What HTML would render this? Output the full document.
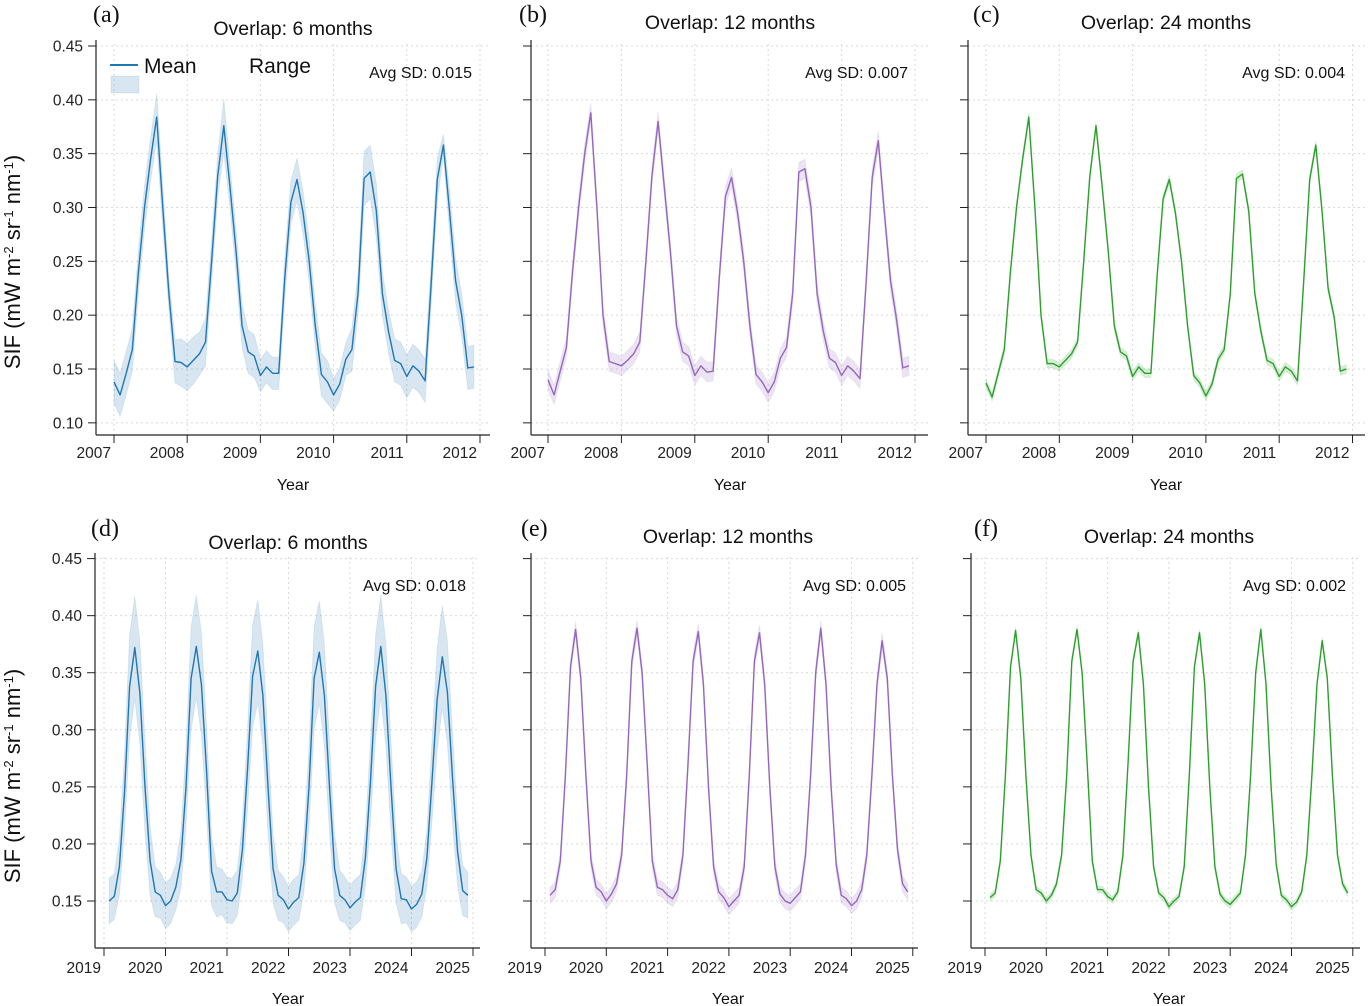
<!DOCTYPE html>
<html><head><meta charset="utf-8"><style>
html,body{margin:0;padding:0;background:#fff;}
svg{display:block;font-family:"Liberation Sans",Arial,sans-serif;}
</style></head><body>
<svg id="fig" width="1370" height="1006" viewBox="0 0 1370 1006" xmlns="http://www.w3.org/2000/svg"></svg>
<script>
// ---------- data ----------
const yTicks = [0.10,0.15,0.20,0.25,0.30,0.35,0.40,0.45];
const yTicksBottom = [0.15,0.20,0.25,0.30,0.35,0.40,0.45];
const yearsTop = [2007,2008,2009,2010,2011,2012];
const yearsBottom = [2019,2020,2021,2022,2023,2024,2025];
// monthly means Jan 2007 - Dec 2011
const meanA = [0.138,0.126,0.146,0.168,0.24,0.30,0.345,0.384,0.30,0.22,0.157,0.156,
0.152,0.158,0.164,0.175,0.25,0.329,0.376,0.32,0.26,0.19,0.166,0.162,
0.144,0.152,0.146,0.146,0.235,0.305,0.326,0.295,0.25,0.19,0.145,0.138,
0.126,0.136,0.159,0.168,0.22,0.327,0.333,0.297,0.22,0.185,0.158,0.155,
0.143,0.153,0.148,0.139,0.23,0.326,0.358,0.297,0.232,0.20,0.151,0.152];
const sdA = [0.02,0.02,0.02,0.02,0.02,0.02,0.02,0.022,0.02,0.015,0.02,0.022,
0.022,0.022,0.02,0.022,0.02,0.02,0.025,0.02,0.02,0.02,0.02,0.02,
0.015,0.015,0.015,0.015,0.02,0.02,0.02,0.02,0.02,0.02,0.02,0.02,
0.015,0.015,0.015,0.02,0.02,0.025,0.025,0.025,0.02,0.02,0.02,0.02,
0.02,0.02,0.02,0.02,0.02,0.02,0.01,0.02,0.02,0.02,0.02,0.02];
const meanB = [0.140,0.126,0.148,0.170,0.24,0.30,0.350,0.388,0.30,0.20,0.157,0.155,
0.153,0.158,0.164,0.175,0.25,0.330,0.380,0.32,0.26,0.19,0.166,0.162,
0.144,0.153,0.147,0.148,0.235,0.310,0.328,0.295,0.25,0.19,0.145,0.138,
0.128,0.138,0.160,0.170,0.22,0.333,0.336,0.300,0.22,0.185,0.160,0.156,
0.144,0.153,0.148,0.141,0.23,0.328,0.362,0.295,0.232,0.195,0.151,0.153];
const sdB = 0.009;
const meanC = [0.137,0.124,0.146,0.168,0.24,0.30,0.345,0.384,0.30,0.20,0.155,0.155,
0.152,0.158,0.164,0.175,0.25,0.329,0.376,0.32,0.26,0.19,0.166,0.162,
0.143,0.152,0.146,0.146,0.235,0.308,0.326,0.295,0.25,0.19,0.144,0.137,
0.125,0.136,0.159,0.168,0.22,0.327,0.331,0.297,0.22,0.185,0.158,0.155,
0.143,0.152,0.148,0.139,0.23,0.326,0.358,0.297,0.225,0.198,0.148,0.150];
const sdC = 0.004;
// monthly means Feb 2019 - Dec 2024
const meanD = [0.150,0.154,0.18,0.245,0.338,0.372,0.332,0.25,0.185,0.158,0.155,
0.146,0.150,0.162,0.186,0.25,0.345,0.373,0.34,0.265,0.176,0.158,0.158,
0.151,0.150,0.157,0.195,0.265,0.347,0.369,0.33,0.25,0.178,0.155,0.151,
0.143,0.149,0.153,0.183,0.25,0.345,0.368,0.33,0.25,0.178,0.155,0.151,
0.144,0.149,0.153,0.188,0.255,0.338,0.373,0.33,0.25,0.178,0.152,0.151,
0.143,0.147,0.156,0.188,0.255,0.326,0.364,0.333,0.258,0.193,0.159,0.155];
const sdDMonthly = [0.02,0.02,0.02,0.025,0.035,0.045,0.045,0.045,0.04,0.03,0.022,0.02];
const meanE = [0.155,0.160,0.185,0.26,0.355,0.388,0.345,0.26,0.185,0.162,0.158,
0.150,0.156,0.165,0.19,0.26,0.360,0.389,0.35,0.27,0.185,0.162,0.160,
0.155,0.152,0.160,0.19,0.27,0.360,0.386,0.34,0.25,0.180,0.158,0.153,
0.145,0.150,0.155,0.18,0.26,0.360,0.385,0.34,0.25,0.180,0.156,0.150,
0.148,0.153,0.158,0.19,0.26,0.350,0.389,0.34,0.25,0.182,0.155,0.152,
0.146,0.150,0.160,0.19,0.26,0.340,0.378,0.345,0.26,0.195,0.165,0.158];
const sdE = 0.007;
const meanF = [0.153,0.157,0.185,0.26,0.355,0.387,0.345,0.26,0.19,0.160,0.157,
0.150,0.155,0.165,0.19,0.26,0.360,0.388,0.35,0.27,0.185,0.160,0.160,
0.154,0.151,0.158,0.19,0.27,0.360,0.385,0.34,0.25,0.180,0.157,0.153,
0.145,0.150,0.154,0.18,0.26,0.355,0.385,0.34,0.25,0.180,0.156,0.150,
0.147,0.152,0.157,0.19,0.26,0.350,0.388,0.34,0.25,0.182,0.155,0.151,
0.145,0.149,0.158,0.19,0.26,0.340,0.378,0.345,0.26,0.190,0.165,0.157];
const sdF = 0.003;

// ---------- drawing ----------
const NS="http://www.w3.org/2000/svg";
const svg=document.getElementById('fig');
function mk(tag,attrs,parent){const e=document.createElementNS(NS,tag);for(const k in attrs)e.setAttribute(k,attrs[k]);(parent||svg).appendChild(e);return e;}

const panels=[
 {id:'a',row:0,L:96,x0:114,px:73.2,R:490,mean:meanA,sd:i=>sdA[i],col:'#1f77b4',title:'Overlap: 6 months',sdTxt:'Avg SD: 0.015',sdX:472,lblX:93,titleX:293,titleY:35,showY:true,startMonth:0},
 {id:'b',row:0,L:531,x0:548,px:73.4,R:928,mean:meanB,sd:i=>sdB,col:'#9467bd',title:'Overlap: 12 months',sdTxt:'Avg SD: 0.007',sdX:908,lblX:519,titleX:730,titleY:29,showY:false,startMonth:0},
 {id:'c',row:0,L:968,x0:986,px:73.3,R:1365,mean:meanC,sd:i=>sdC,col:'#2ca02c',title:'Overlap: 24 months',sdTxt:'Avg SD: 0.004',sdX:1345,lblX:973,titleX:1166,titleY:29,showY:false,startMonth:0},
 {id:'d',row:1,L:95,x0:104,px:61.5,R:480,mean:meanD,sd:i=>sdDMonthly[(i+1)%12],col:'#1f77b4',title:'Overlap: 6 months',sdTxt:'Avg SD: 0.018',sdX:466,lblX:91,titleX:288,titleY:549,showY:true,startMonth:1},
 {id:'e',row:1,L:531,x0:545,px:61.3,R:918,mean:meanE,sd:i=>sdE,col:'#9467bd',title:'Overlap: 12 months',sdTxt:'Avg SD: 0.005',sdX:906,lblX:521,titleX:728,titleY:543,showY:false,startMonth:1},
 {id:'f',row:1,L:971,x0:985,px:61.3,R:1360,mean:meanF,sd:i=>sdF,col:'#2ca02c',title:'Overlap: 24 months',sdTxt:'Avg SD: 0.002',sdX:1346,lblX:974,titleX:1169,titleY:543,showY:false,startMonth:1}
];
const rows=[
 {y45:46,pu:1076.7,bot:435,ticks:yTicks,years:yearsTop,lblY:22,sdY:78,xlY:458,yearY:490,top:40},
 {y45:558.6,pu:1141.3,bot:948,ticks:yTicksBottom,years:yearsBottom,lblY:536,sdY:591,xlY:973,yearY:1004,top:553}
];

panels.forEach(p=>{
 const r=rows[p.row];
 const g=mk('g',{});
 
 
 const Y=v=>r.y45+(0.45-v)*r.pu;
 const X=t=>p.x0+(t-r.years[0])*p.px;
 r.ticks.forEach(v=>{const l=mk('line',{x1:p.L,x2:p.R,y1:Y(v),y2:Y(v),stroke:'#d9d9d9','stroke-width':1,'stroke-dasharray':'2,3'},g);
  });
 r.years.forEach(yr=>{const l=mk('line',{x1:X(yr),x2:X(yr),y1:r.top+4,y2:r.bot,stroke:'#d9d9d9','stroke-width':1,'stroke-dasharray':'2,3'},g);
  });
 const n=p.mean.length;
 const tx=i=>X(r.years[0]+(i+p.startMonth)/12);
 let up=[],lo=[];
 for(let i=0;i<n;i++){up.push(tx(i).toFixed(1)+','+Y(p.mean[i]+p.sd(i)).toFixed(1));lo.unshift(tx(i).toFixed(1)+','+Y(p.mean[i]-p.sd(i)).toFixed(1));}
 const band=mk('polygon',{points:up.concat(lo).join(' '),fill:p.col,'fill-opacity':0.18,stroke:p.col,'stroke-opacity':0.1},g);
 
 const pts=[];for(let i=0;i<n;i++)pts.push(tx(i).toFixed(1)+','+Y(p.mean[i]).toFixed(1));
 const line=mk('polyline',{points:pts.join(' '),fill:'none',stroke:p.col,'stroke-width':1.4,'stroke-linejoin':'round'},g);
 
 const sl=mk('line',{x1:p.L,x2:p.L,y1:r.top,y2:r.bot,stroke:'#222','stroke-width':1.2},g);
 
 const sb=mk('line',{x1:p.L,x2:p.R,y1:r.bot,y2:r.bot,stroke:'#222','stroke-width':1.2},g);
 
 r.ticks.forEach(v=>{mk('line',{x1:p.L-8,x2:p.L,y1:Y(v),y2:Y(v),stroke:'#222','stroke-width':1},g);
  if(p.showY){const t=mk('text',{x:p.L-13,y:Y(v)+5.5,'text-anchor':'end','font-size':15.5,fill:'#222'},g);t.textContent=v.toFixed(2);
   }});
 r.years.forEach(yr=>{mk('line',{x1:X(yr),x2:X(yr),y1:r.bot,y2:r.bot+8,stroke:'#222','stroke-width':1},g);
  const t=mk('text',{x:X(yr)-3,y:r.xlY,'text-anchor':'end','font-size':15.5,fill:'#222'},g);t.textContent=yr;
  });
 const pl=mk('text',{x:p.lblX,y:r.lblY,'font-size':24,'font-family':'Liberation Serif, serif',fill:'#111'},g);pl.textContent='('+p.id+')';
 
 const ti=mk('text',{x:p.titleX,y:p.titleY,'text-anchor':'middle','font-size':19.5,fill:'#111'},g);ti.textContent=p.title;
 
 const sd=mk('text',{x:p.sdX,y:r.sdY,'text-anchor':'end','font-size':16,fill:'#111'},g);sd.textContent=p.sdTxt;
 
 const yl=mk('text',{x:p.titleX,y:r.yearY,'text-anchor':'middle','font-size':16,fill:'#111'},g);yl.textContent='Year';
 
});

[[262,'y-axis-title-top'],[776,'y-axis-title-bottom']].forEach(([cy,name])=>{
 const t=mk('text',{x:0,y:0,transform:'translate(20,'+cy+') rotate(-90)','text-anchor':'middle','font-size':22,fill:'#111'});
 
 
 t.innerHTML='SIF (mW m<tspan baseline-shift="super" font-size="13">-2</tspan> sr<tspan baseline-shift="super" font-size="13">-1</tspan> nm<tspan baseline-shift="super" font-size="13">-1</tspan>)';
});

const lg=mk('g',{});


mk('line',{x1:110,x2:138,y1:65,y2:65,stroke:'#1f77b4','stroke-width':2},lg);
const lm=mk('text',{x:144,y:73,'font-size':21,fill:'#111'},lg);lm.textContent='Mean';


mk('rect',{x:111,y:76,width:28,height:17,fill:'#1f77b4','fill-opacity':0.18,stroke:'#1f77b4','stroke-opacity':0.1},lg);
const lr=mk('text',{x:249,y:73,'font-size':21,fill:'#111'},lg);lr.textContent='Range';


</script>
</body></html>
